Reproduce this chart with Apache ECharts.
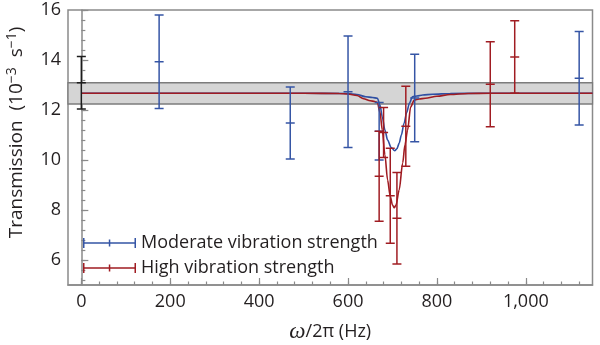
<!DOCTYPE html>
<html>
<head>
<meta charset="utf-8">
<script src="https://cdn.jsdelivr.net/npm/echarts@6/dist/echarts.min.js"></script>
<style>
  html, body { margin: 0; padding: 0; background: #ffffff; }
  #chart { width: 600px; height: 345px; }
</style>
</head>
<body>
<div id="chart"></div>
<script>
// Measured points: frequency (Hz), mean transmission (10^-3 s^-1), error half-width
const referenceHz = [0];
const referenceMean = [13.09];
const referenceErr = [1.05];

const moderateHz = [175, 470, 600, 670, 750, 1120];
const moderateMean = [13.93, 11.48, 12.73, 11.15, 12.48, 13.27];
const moderateErr = [1.87, 1.44, 2.23, 1.15, 1.75, 1.87];

const highHz = [670, 680, 695, 710, 730, 920, 975];
const highMean = [9.35, 11.1, 8.57, 7.67, 11.35, 13.03, 14.12];
const highErr = [1.8, 1.0, 1.9, 1.83, 1.6, 1.7, 1.45];

// Model curves
const moderateFitHz = [0, 300, 500, 600, 620, 640, 655, 666, 672, 677, 683, 689, 697, 705, 710, 715, 720, 726, 732, 738, 745, 755, 768, 790, 830, 900, 1150];
const moderateFitVal = [12.67, 12.67, 12.67, 12.66, 12.62, 12.53, 12.50, 12.47, 12.2, 11.73, 11.2, 10.8, 10.5, 10.37, 10.45, 10.67, 11.0, 11.47, 11.9, 12.27, 12.53, 12.56, 12.6, 12.63, 12.66, 12.67, 12.67];

const highFitHz = [0, 300, 500, 580, 600, 620, 635, 650, 660, 666, 672, 677, 683, 689, 695, 700, 704, 708, 715, 723, 728, 734, 741, 749, 760, 774, 800, 830, 870, 920, 1150];
const highFitVal = [12.67, 12.67, 12.67, 12.66, 12.64, 12.58, 12.45, 12.37, 12.34, 12.3, 11.9, 11.2, 10.2, 9.2, 8.55, 8.2, 8.09, 8.2, 8.8, 9.88, 10.6, 11.2, 12.13, 12.4, 12.44, 12.47, 12.55, 12.62, 12.66, 12.67, 12.67];

// Shaded band without vibration
const bandLow = 12.24;
const bandHigh = 13.09;

// Axes
const xMin = -30, xMax = 1150;
const yMin = 5, yMax = 16;
const xTickValues = [0, 200, 400, 600, 800, 1000];
const xTickLabels = ['0', '200', '400', '600', '800', '1,000'];
const yTickValues = [6, 8, 10, 12, 14, 16];
const yTickLabels = ['6', '8', '10', '12', '14', '16'];
const xMinorStep = 40;
const yMinorStep = 0.4;

const seriesNames = ['Moderate vibration strength', 'High vibration strength'];

const FONT = 'Open Sans';
const FS = 18;
const TEXT = '#231f20';
const FRAME = '#8a8a8a';
const BLUE = '#3555a5';
const RED = '#a01c22';
const BLACK = '#1c1c1c';

function minorTicks(min, max, step) {
  const out = [];
  for (let v = Math.ceil(min / step) * step; v <= max + 1e-9; v += step) {
    out.push(Math.round(v * 1000) / 1000);
  }
  return out;
}

function zip3(a, b, c) { return a.map((v, i) => [v, b[i], c[i]]); }
function zip2(a, b) { return a.map((v, i) => [v, b[i]]); }

function errorBar(params, api) {
  const x = api.value(0), m = api.value(1), e = api.value(2);
  const top = api.coord([x, m + e]);
  const mid = api.coord([x, m]);
  const bot = api.coord([x, m - e]);
  const half = 4.5;
  const style = { stroke: api.visual('color'), lineWidth: 1.5, fill: null };
  const seg = (x1, y1, x2, y2) => ({ type: 'line', shape: { x1, y1, x2, y2 }, style });
  return {
    type: 'group',
    children: [
      seg(top[0], top[1], bot[0], bot[1]),
      seg(top[0] - half, top[1], top[0] + half, top[1]),
      seg(mid[0] - half, mid[1], mid[0] + half, mid[1]),
      seg(bot[0] - half, bot[1], bot[0] + half, bot[1])
    ]
  };
}

const legendIcon = 'path://M0,4.3H53V5.7H0Z M0,0H1.5V10H0Z M25.8,1.5H27.3V8.5H25.8Z M51.5,0H53V10H51.5Z';

const gridBox = { left: 68, right: 7.5, top: 10, bottom: 60, outerBoundsMode: 'none', containLabel: false };

const chart = echarts.init(document.getElementById('chart'), null, { renderer: 'canvas' });

chart.setOption({
  animation: false,
  backgroundColor: '#ffffff',
  grid: [
    Object.assign({ show: true, borderColor: FRAME, borderWidth: 1.5, backgroundColor: 'transparent' }, gridBox),
    Object.assign({ show: false }, gridBox)
  ],
  legend: {
    orient: 'vertical',
    left: 83,
    top: 234,
    padding: 0,
    itemWidth: 53,
    itemHeight: 10,
    itemGap: 7,
    data: [
      { name: seriesNames[0], icon: legendIcon },
      { name: seriesNames[1], icon: legendIcon }
    ],
    textStyle: { fontFamily: FONT, fontSize: FS, color: TEXT }
  },
  xAxis: [
    {
      type: 'value', gridIndex: 0, min: xMin, max: xMax,
      name: '{i|ω}{t|/2π (Hz)}',
      nameLocation: 'middle', nameGap: 35,
      nameTextStyle: {
        rich: {
          i: { fontFamily: 'Liberation Serif', fontStyle: 'italic', fontSize: 23, color: TEXT },
          t: { fontFamily: FONT, fontSize: FS, color: TEXT }
        }
      },
      axisLine: { show: true, lineStyle: { color: FRAME, width: 1.5 } },
      axisTick: { show: true, inside: true, length: 7, customValues: xTickValues, lineStyle: { color: FRAME, width: 1.2 } },
      axisLabel: {
        customValues: xTickValues, margin: 8,
        fontFamily: FONT, fontSize: FS, color: TEXT,
        formatter: v => xTickLabels[xTickValues.indexOf(v)] || ''
      },
      splitLine: { show: false }
    },
    {
      type: 'value', gridIndex: 1, min: xMin, max: xMax,
      axisLine: { show: false },
      axisTick: { show: true, inside: true, length: 3.5, customValues: minorTicks(xMin, xMax, xMinorStep), lineStyle: { color: FRAME, width: 1.2 } },
      axisLabel: { show: false },
      splitLine: { show: false }
    }
  ],
  yAxis: [
    {
      type: 'value', gridIndex: 0, min: yMin, max: yMax,
      name: '{t|Transmission  (10}{s|−3}{t|  s}{s|−1}{t|)}',
      nameLocation: 'middle', nameGap: 39, nameRotate: 90,
      nameTextStyle: {
        padding: [0, 0, 0, 30],
        rich: {
          t: { fontFamily: FONT, fontSize: 19, color: TEXT, lineHeight: 24 },
          s: { fontFamily: FONT, fontSize: 14, color: TEXT, verticalAlign: 'top', lineHeight: 13 }
        }
      },
      axisLine: { show: true, lineStyle: { color: FRAME, width: 1.5 } },
      axisTick: { show: true, inside: true, length: 7, customValues: yTickValues, lineStyle: { color: FRAME, width: 1.2 } },
      axisLabel: {
        customValues: yTickValues, margin: 7,
        fontFamily: FONT, fontSize: FS, color: TEXT,
        formatter: v => yTickLabels[yTickValues.indexOf(v)] || ''
      },
      splitLine: { show: false }
    },
    {
      type: 'value', gridIndex: 1, min: yMin, max: yMax,
      axisLine: { show: false },
      axisTick: { show: true, inside: true, length: 4, customValues: minorTicks(yMin, yMax, yMinorStep), lineStyle: { color: FRAME, width: 1.2 } },
      axisLabel: { show: false },
      splitLine: { show: false }
    }
  ],
  series: [
    {
      name: 'band',
      type: 'line',
      xAxisIndex: 0, yAxisIndex: 0,
      data: [],
      z: 1,
      markArea: {
        silent: true,
        itemStyle: { color: '#d5d5d5', borderColor: '#7c7c7c', borderWidth: 1.3 },
        data: [[{ yAxis: bandHigh }, { yAxis: bandLow }]]
      }
    },
    {
      name: 'moderate fit',
      type: 'line',
      xAxisIndex: 0, yAxisIndex: 0,
      data: zip2(moderateFitHz, moderateFitVal),
      showSymbol: false,
      smooth: 0.3,
      smoothMonotone: 'x',
      lineStyle: { color: '#2f4fa3', width: 1.6 },
      z: 3
    },
    {
      name: 'high fit',
      type: 'line',
      xAxisIndex: 0, yAxisIndex: 0,
      data: zip2(highFitHz, highFitVal),
      showSymbol: false,
      smooth: 0.3,
      smoothMonotone: 'x',
      lineStyle: { color: RED, width: 1.6 },
      z: 4
    },
    {
      name: 'reference',
      type: 'custom',
      xAxisIndex: 0, yAxisIndex: 0,
      renderItem: errorBar,
      itemStyle: { color: BLACK },
      data: zip3(referenceHz, referenceMean, referenceErr),
      z: 5
    },
    {
      name: seriesNames[0],
      type: 'custom',
      xAxisIndex: 0, yAxisIndex: 0,
      renderItem: errorBar,
      itemStyle: { color: BLUE },
      data: zip3(moderateHz, moderateMean, moderateErr),
      z: 5
    },
    {
      name: seriesNames[1],
      type: 'custom',
      xAxisIndex: 0, yAxisIndex: 0,
      renderItem: errorBar,
      itemStyle: { color: RED },
      data: zip3(highHz, highMean, highErr),
      z: 5
    }
  ]
});
</script>
</body>
</html>
